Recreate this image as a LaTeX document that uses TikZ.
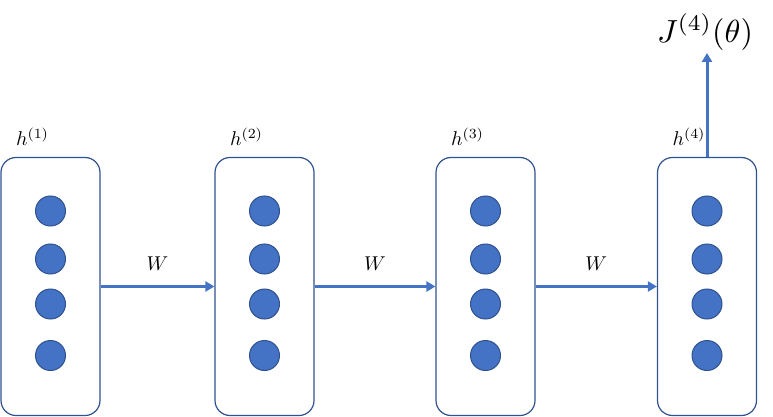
\documentclass[tikz,border=0pt]{standalone}
\usepackage{graphicx}
\usetikzlibrary{arrows.meta}
\definecolor{edgeblue}{HTML}{2F528F}
\definecolor{fillblue}{HTML}{4472C4}
\newcommand{\bigtxt}[2]{\scalebox{#1}{#2}}
\begin{document}
\begin{tikzpicture}[x=1pt,y=-1pt,
  layerbox/.style={draw=edgeblue,line width=1.2pt,rounded corners=15pt,minimum width=99pt,minimum height=258pt,inner sep=0pt},
  unit/.style={circle,draw=edgeblue,line width=1pt,fill=fillblue,minimum size=30pt,inner sep=0pt},
  conn/.style={draw=fillblue,line width=3pt,-{Triangle[length=9pt,width=10pt]},shorten >=0pt},
  lbl/.style={inner sep=0pt}]
\useasboundingbox (0,0) rectangle (773,417);
\foreach \i/\x in {1/50.5,2/264.5,3/485.5,4/707} {
  \node[layerbox] (b\i) at (\x,286.5) {};
  \node[unit] (c\i a) at (\x,211) {};
  \node[unit] (c\i b) at (\x,259) {};
  \node[unit] (c\i c) at (\x,304) {};
  \node[unit] (c\i d) at (\x,355.5) {};
  \node[lbl] (h\i) at (\x-18,137) {\bigtxt{2}{$h^{(\i)}$}};
}
\draw[conn] (b1.east) -- (b2.west) node[midway,above=15pt,lbl] (w1) {\bigtxt{2}{$W$}};
\draw[conn] (b2.east) -- (b3.west) node[midway,above=15pt,lbl] (w2) {\bigtxt{2}{$W$}};
\draw[conn] (b3.east) -- (b4.west) node[midway,above=15pt,lbl] (w3) {\bigtxt{2}{$W$}};
\node[inner sep=0pt] (J) at (705,32) {\bigtxt{3.2}{$J^{(4)}(\theta)$}};
\coordinate (jtip) at (707,53);
\draw[conn] (b4.north) -- (jtip);
\end{tikzpicture}
\end{document}
